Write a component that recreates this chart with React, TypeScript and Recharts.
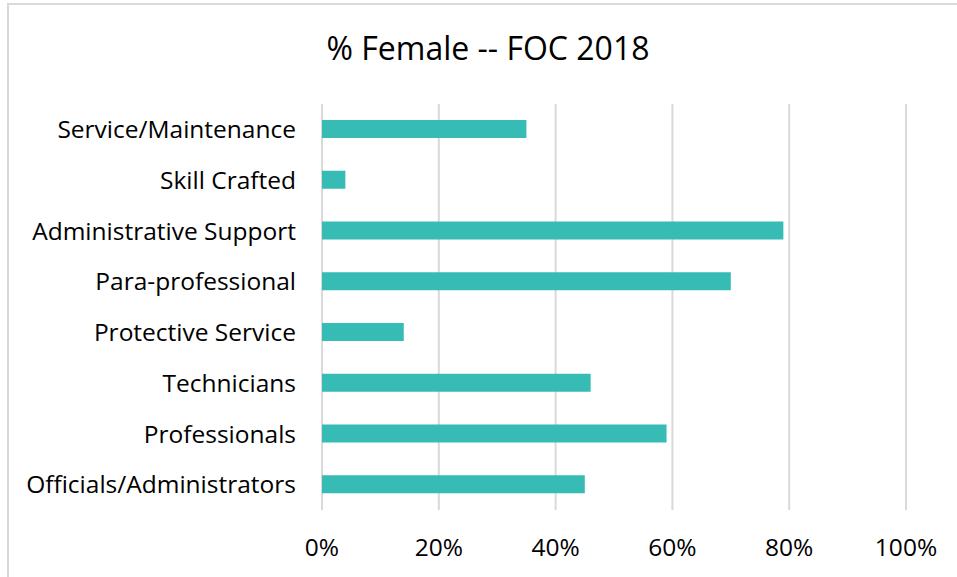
import React from "react";
import { BarChart, Bar, XAxis, YAxis, CartesianGrid } from "recharts";

const categories = [
  "Service/Maintenance",
  "Skill Crafted",
  "Administrative Support",
  "Para-professional",
  "Protective Service",
  "Technicians",
  "Professionals",
  "Officials/Administrators",
];
const femalePct = [35, 4, 79, 70, 14, 46, 59, 45];
const xTicks = [0, 20, 40, 60, 80, 100];
const title = "% Female -- FOC 2018";

const data = categories.map((c, i) => ({ name: c, value: femalePct[i] }));

const FONT = "'Open Sans', sans-serif";

export default function App() {
  return (
    <div
      style={{
        position: "absolute",
        left: 0,
        top: 0,
        width: 957,
        height: 577,
        background: "#fff",
        overflow: "hidden",
        fontFamily: FONT,
      }}
    >
      <div
        style={{
          position: "absolute",
          left: 7,
          top: 3,
          width: 980,
          height: 600,
          border: "2px solid #d9d9d9",
          boxSizing: "border-box",
        }}
      />
      <div
        style={{
          position: "absolute",
          left: 0,
          width: 976,
          top: 29,
          textAlign: "center",
          fontSize: 32,
          lineHeight: "38px",
          color: "#000",
        }}
      >
        {title}
      </div>
      <div style={{ position: "absolute", left: 0, top: 0 }}>
        <BarChart
          width={957}
          height={577}
          data={data}
          layout="vertical"
          margin={{ top: 104, right: 51, bottom: 27, left: 0 }}
          barCategoryGap="0%"
        >
          <CartesianGrid
            horizontal={false}
            vertical={true}
            stroke="#d9d9d9"
            strokeWidth={2}
          />
          <XAxis
            type="number"
            domain={[0, 100]}
            ticks={xTicks}
            tickFormatter={(v: number) => `${v}%`}
            axisLine={false}
            tickLine={false}
            tickSize={0}
            tickMargin={29}
            height={40}
            interval={0}
            tick={{ fill: "#000", fontSize: 24.5, fontFamily: FONT }}
          />
          <YAxis
            type="category"
            dataKey="name"
            width={322}
            axisLine={false}
            tickLine={false}
            tickSize={0}
            tickMargin={26}
            interval={0}
            tick={{ fill: "#000", fontSize: 24.5, fontFamily: FONT }}
          />
          <Bar
            dataKey="value"
            fill="#36bbb5"
            barSize={18}
            isAnimationActive={false}
          />
        </BarChart>
      </div>
    </div>
  );
}
